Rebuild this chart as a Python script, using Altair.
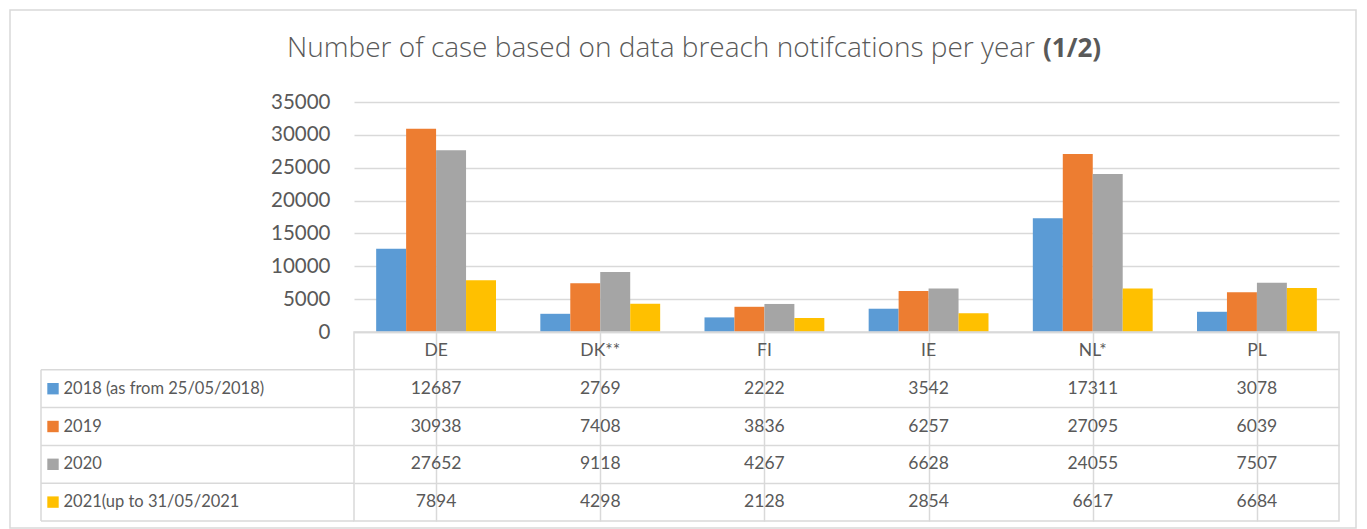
import altair as alt
import pandas as pd

countries = ["DE", "DK**", "FI", "IE", "NL*", "PL"]
series = ["2018 (as from 25/05/2018)", "2019", "2020", "2021(up to 31/05/2021"]
v2018 = [12687, 2769, 2222, 3542, 17311, 3078]
v2019 = [30938, 7408, 3836, 6257, 27095, 6039]
v2020 = [27652, 9118, 4267, 6628, 24055, 7507]
v2021 = [7894, 4298, 2128, 2854, 6617, 6684]
colors = ["#5B9BD5", "#ED7D31", "#A5A5A5", "#FFC000"]
y_ticks = [0, 5000, 10000, 15000, 20000, 25000, 30000, 35000]
title_main = "Number of case based on data breach notifcations per year"
title_bold = "(1/2)"

rows = []
for s, vals in zip(series, [v2018, v2019, v2020, v2021]):
    for c, v in zip(countries, vals):
        rows.append({"country": c, "series": s, "value": v})
df = pd.DataFrame(rows)

TXT = "#595959"
GRID = "#D9D9D9"
FONT = "Lato"
TFONT = "Open Sans"
W = 985
HB = 230
HT = 189
FS = 17.5
LFS = 16.5

color_scale = alt.Scale(domain=series, range=colors)

bars = alt.Chart(df).mark_bar().encode(
    x=alt.X("country:N", sort=countries,
            scale=alt.Scale(paddingInner=0.27, paddingOuter=0.135), axis=None),
    xOffset=alt.XOffset("series:N", sort=series, scale=alt.Scale(paddingInner=0)),
    y=alt.Y("value:Q", scale=alt.Scale(domain=[0, 35000]),
            axis=alt.Axis(values=y_ticks, grid=True, gridColor=GRID, gridWidth=1.5,
                          domain=False, ticks=False, labelFontSize=20.5,
                          labelColor=TXT, labelFont=FONT, labelPadding=24,
                          format="d", title=None)),
    color=alt.Color("series:N", scale=color_scale, legend=None),
)

one = pd.DataFrame({"k": [0]})
t1 = alt.Chart(one).mark_text(align="right", baseline="middle", fontSize=28,
                              font=TFONT, color=TXT, fontWeight=300).encode(
    x=alt.value(681), y=alt.value(-53), text=alt.value(title_main))
t2 = alt.Chart(one).mark_text(align="left", baseline="middle", fontSize=26,
                              font=TFONT, color=TXT, fontWeight="bold").encode(
    x=alt.value(689), y=alt.value(-53), text=alt.value(title_bold))

top = alt.layer(bars, t1, t2).properties(
    width=W, height=HB, view=alt.ViewBackground(stroke="transparent"))

ydom = ["hdr"] + series
yscale = alt.Scale(domain=ydom, paddingInner=0, paddingOuter=0)

cells = alt.Chart(df).mark_text(fontSize=FS, font=FONT, color=TXT).encode(
    x=alt.X("country:N", sort=countries,
            scale=alt.Scale(paddingInner=0, paddingOuter=0),
            axis=alt.Axis(labels=False, ticks=False, domain=False, grid=True,
                          gridColor=GRID, gridWidth=1.5, bandPosition=0, title=None)),
    y=alt.Y("series:N", scale=yscale,
            axis=alt.Axis(labelExpr="datum.value == 'hdr' ? '' : datum.value",
                          ticks=False, domain=False, grid=True, gridColor=GRID,
                          gridWidth=1.5, bandPosition=0, labelAlign="left",
                          labelPadding=291, labelFontSize=LFS, labelFont=FONT,
                          labelColor=TXT, labelLimit=300, title=None)),
    text=alt.Text("value:Q", format="d"),
)

hdr_df = pd.DataFrame({"country": countries, "series": ["hdr"] * len(countries)})
header = alt.Chart(hdr_df).mark_text(fontSize=FS, font=FONT, color=TXT).encode(
    x=alt.X("country:N", sort=countries),
    y=alt.Y("series:N", scale=yscale),
    text="country:N",
)

ser_df = pd.DataFrame({"series": series})
hlines = alt.Chart(ser_df).mark_rule(color=GRID, strokeWidth=1.5).encode(
    y=alt.Y("series:N", scale=yscale, bandPosition=0),
    x=alt.value(-313), x2=alt.value(0),
)
bottom_line = alt.Chart(one).mark_rule(color=GRID, strokeWidth=1.5).encode(
    y=alt.value(HT), x=alt.value(-313), x2=alt.value(0))
first_df = pd.DataFrame({"series": [series[0]]})
vline = alt.Chart(first_df).mark_rule(color=GRID, strokeWidth=1.5).encode(
    y=alt.Y("series:N", scale=yscale, bandPosition=0),
    y2=alt.value(HT), x=alt.value(-313))

swatch = alt.Chart(ser_df).mark_point(shape="square", filled=True, opacity=1,
                                      size=130).encode(
    x=alt.value(-301),
    y=alt.Y("series:N", scale=yscale),
    color=alt.Color("series:N", scale=color_scale, legend=None),
)

frame = alt.Chart(one).mark_rect(fill="transparent", stroke=GRID, strokeWidth=1.5).encode(
    x=alt.value(-344), x2=alt.value(1002), y=alt.value(-322), y2=alt.value(196))

table = alt.layer(frame, hlines, bottom_line, vline, cells, header, swatch).properties(
    width=W, height=HT, view=alt.ViewBackground(stroke=GRID, strokeWidth=1.5))

chart = alt.vconcat(top, table, spacing=0, bounds="flush").properties(
    padding=0, background="white")

chart.save("out.html", embed_options={"renderer": "svg", "actions": False})
